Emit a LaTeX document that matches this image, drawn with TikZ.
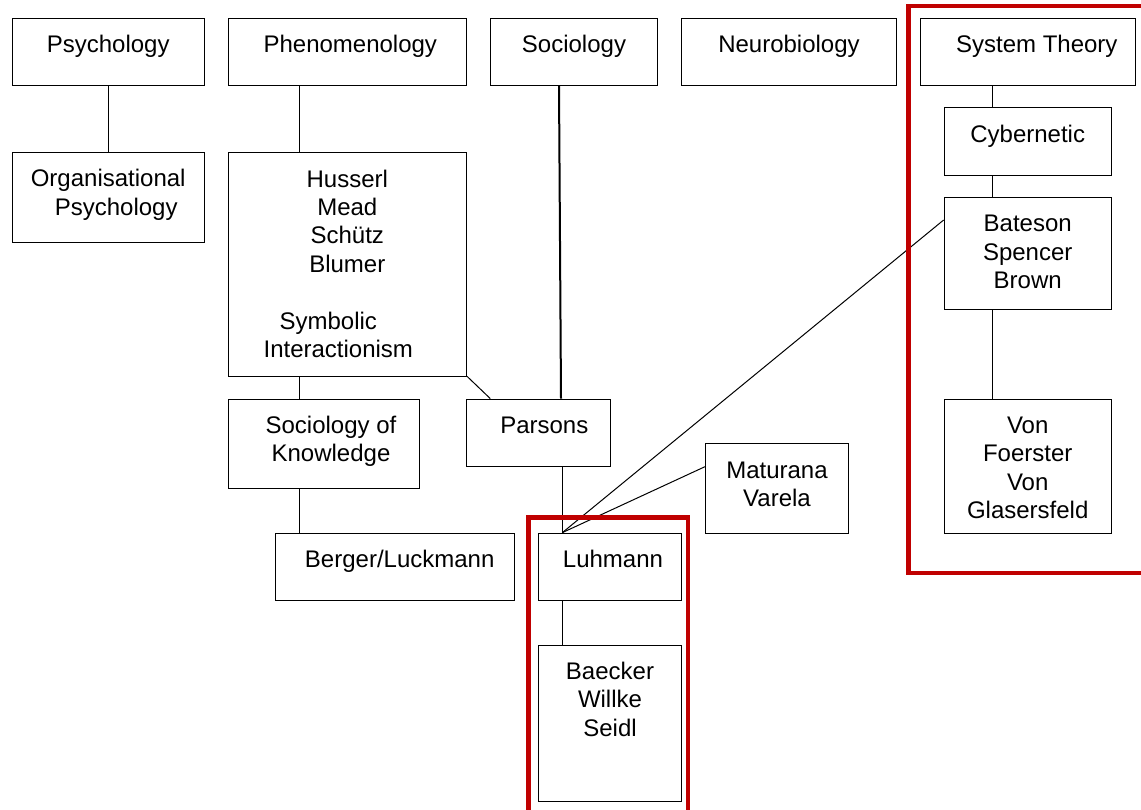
\documentclass[tikz,border=0pt]{standalone}
\usepackage{fontspec}
\setmainfont{Liberation Sans}
\usepackage{tikz}
\definecolor{framered}{HTML}{C00000}

\begin{document}
\begin{tikzpicture}[x = 0.5pt, y = -0.5pt]
%\draw[help lines, step = 50](0, 0) grid (1141, 809);
\tikzstyle{block} = [draw, rectangle, inner sep = 0pt, align = center,
  text height = 17.25pt, font = \fontsize{12pt}{14.2pt}\selectfont];
\tikzstyle{line} = [draw, line width = 0.5pt]
\tikzstyle{redbox} = [draw = framered, line width = 2.2pt]
\useasboundingbox (0, 0) rectangle (1141, 809);
% top row
\node [block, minimum width = 95.85pt, text depth = 16.25pt] at (108.2, 51.8) (psych) {Psychology};
\node [block, minimum width = 119.35pt, text depth = 16.25pt] at (347.3, 51.8) (phenom) {\hspace*{3pt}Phenomenology};
\node [block, minimum width = 83.7pt, text depth = 16.25pt] at (574, 51.8) (sociol) {Sociology};
\node [block, minimum width = 107.7pt, text depth = 16.25pt] at (789, 51.8) (neuro) {Neurobiology};
\node [block, minimum width = 107.5pt, text depth = 16.25pt] at (1027.8, 51.8) (systh) {\hspace*{9pt}System Theory};
% left branches
\node [block, minimum width = 95.85pt, text height = 31.45pt, text depth = 13.4pt] at (108.2, 197.2) (orgpsych) {Organisational \\ \hspace*{8pt}Psychology};
\node [block, minimum width = 119.35pt, text height = 102.45pt, text depth = 9.2pt] at (347.3, 264.3) (husserl)
  {Husserl \\ Mead \\ Sch\"utz \\ Blumer \\[14.2pt] Symbolic\hspace*{19pt}\mbox{} \\ Interactionism\hspace*{9pt}\mbox{}};
\node [block, minimum width = 95.5pt, text height = 31.45pt, text depth = 13.2pt] at (323.5, 443.7) (knowl) {\hspace*{7.5pt}Sociology of \\ \hspace*{7.5pt}Knowledge};
\node [block, minimum width = 72pt, text depth = 16.25pt] at (538.3, 432.5) (parsons) {\hspace*{6pt}Parsons};
\node [block, minimum width = 119.5pt, text depth = 16.4pt] at (395.2, 566.7) (berger) {\hspace*{4.5pt}Berger/Luckmann};
\node [block, minimum width = 71.7pt, text depth = 16.4pt] at (610, 566.7) (luhmann) {\hspace*{3pt}Luhmann};
\node [block, minimum width = 71.7pt, text height = 45.65pt, text depth = 32.7pt] at (610, 723.3) (baecker) {Baecker \\ Willke \\ Seidl};
\node [block, minimum width = 71.7pt, text height = 31.45pt, text depth = 13.35pt] at (777, 488.5) (matur) {Maturana \\ Varela};
% system theory column
\node [block, minimum width = 83.65pt, text depth = 16.4pt] at (1027.7, 141.3) (cyber) {Cybernetic};
\node [block, minimum width = 83.65pt, text height = 45.65pt, text depth = 10.35pt] at (1027.7, 253.3) (bateson) {Bateson \\ Spencer \\ Brown};
\node [block, minimum width = 83.65pt, text height = 59.85pt, text depth = 7.3pt] at (1027.7, 466.2) (foerster) {Von \\ Foerster \\ Von \\ Glasersfeld};
\coordinate (axis) at (299, 0);
\coordinate (rail) at (992.3, 0);
\coordinate (hub) at ([xshift = -23.85pt]luhmann.north);
\path [line] (psych) -- (orgpsych);
\path [line] (phenom.south -| axis) -- (husserl.north -| axis);
\path [line] (husserl.south -| axis) -- (knowl.north -| axis);
\path [line] (knowl.south -| axis) -- (berger.north -| axis);
\path [line] (husserl.south east) -- ([xshift = 12.2pt]parsons.north west);
\path [line, line width = 1pt] ([xshift = -7.5pt]sociol.south) -- ([xshift = 11.35pt]parsons.north);
\path [line] (parsons.south -| hub) -- (hub);
\path [line] ([yshift = 16.65pt]bateson.west) -- (hub);
\path [line] ([yshift = 10.9pt]matur.west) -- (hub);
\path [line] (luhmann.south -| hub) -- (baecker.north -| hub);
\path [line] (systh.south -| rail) -- (cyber.north -| rail);
\path [line] (cyber.south -| rail) -- (bateson.north -| rail);
\path [line] (bateson.south -| rail) -- (foerster.north -| rail);
% red frames
\path [redbox] (1150, 6) -- (908.3, 6) -- (908.3, 572.7) -- (1150, 572.7);
\path [redbox] (528.3, 820) -- (528.3, 517.3) -- (687.7, 517.3) -- (687.7, 820);
\end{tikzpicture}
\end{document}
